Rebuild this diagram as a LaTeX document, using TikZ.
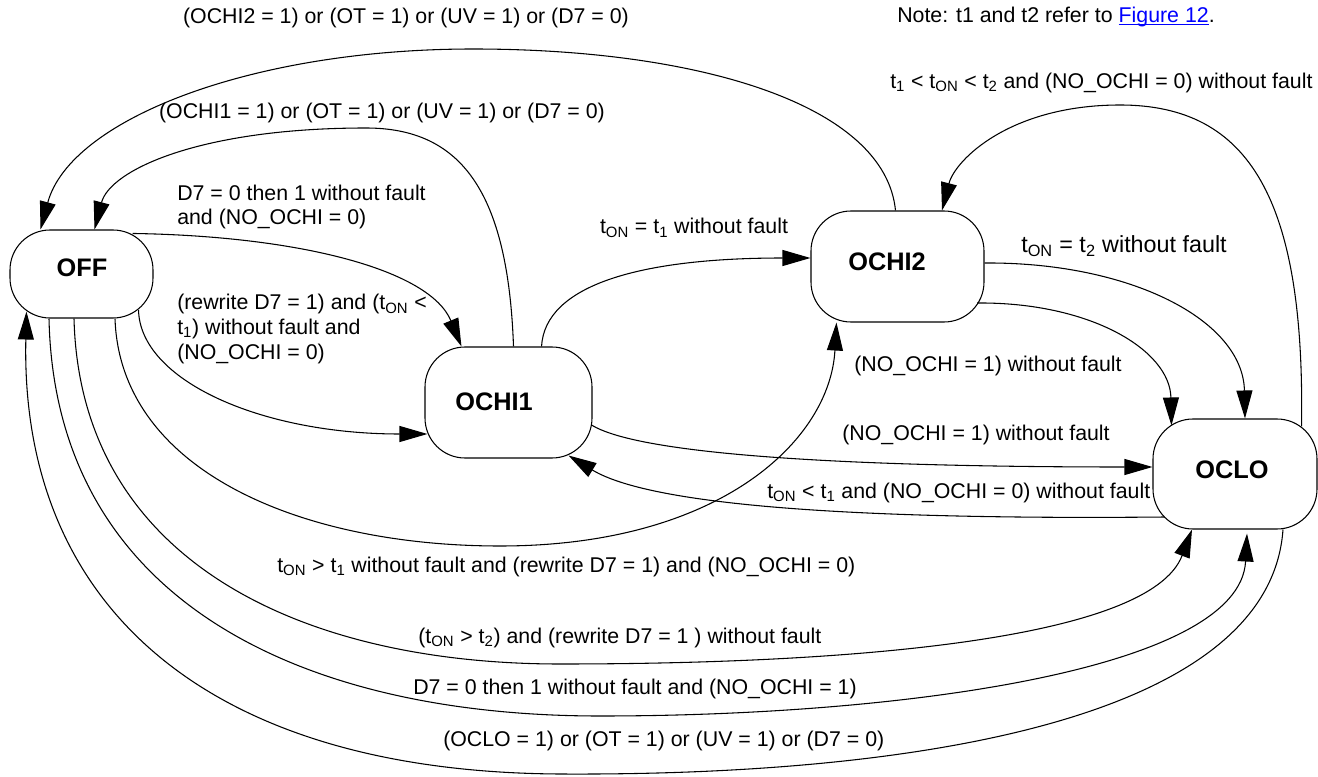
\documentclass[tikz,border=0pt]{standalone}
\usepackage{fontspec}
\setmainfont{Liberation Sans}
\usetikzlibrary{arrows.meta,calc}
\newcommand{\tsb}[1]{\textsubscript{#1}}
\newcommand{\myul}[1]{\setbox0\hbox{#1}\rlap{\rule[-1.6pt]{\wd0}{0.7pt}}\box0}
\begin{document}
\begin{tikzpicture}[x=0.75pt,y=-0.75pt,
  state/.style={draw, line width=0.8pt, rounded corners=30pt, inner sep=0pt},
  stname/.style={font=\fontsize{19}{22}\selectfont\bfseries, inner sep=0pt},
  lbl/.style={font=\fontsize{16}{18.5}\selectfont, inner sep=0pt, align=left},
  biglbl/.style={font=\fontsize{17.5}{20}\selectfont, inner sep=0pt},
  conn/.style={line width=0.8pt, -{Triangle[length=21pt,width=12pt]}}
]
\useasboundingbox (0,0) rectangle (1318,777);

% states
\node[state, minimum width=107.25pt, minimum height=66pt] (OFF) at (81.5,274) {};
\node[state, minimum width=125.25pt, minimum height=83.25pt] (OCHI1) at (508.5,402.5) {};
\node[state, minimum width=129.75pt, minimum height=83.25pt] (OCHI2) at (897.5,266.5) {};
\node[state, minimum width=123pt, minimum height=82.5pt] (OCLO) at (1235,474) {};

\node[stname] (OFFt) at (82,268) {OFF};
\node[stname] (OCHI1t) at (494,402) {OCHI1};
\node[stname] (OCHI2t) at (887,262) {OCHI2};
\node[stname] (OCLOt) at (1232,470) {OCLO};

% connectors
% E1 OCHI2 -> OFF
\draw[conn] ($(OCHI2.north)+(-2,0)$) .. controls (885,105) and (700,49) .. (473,49)
  .. controls (250,49) and (70,120) .. ($(OFF.north)+(-41,0)$);
% E2 OCHI1 -> OFF
\draw[conn] ($(OCHI1.north)+(5,0)$) .. controls (508,190) and (460,128) .. (366,128)
  .. controls (200,128) and (110,170) .. ($(OFF.north)+(13,0)$);
% E3 OFF -> OCHI1
\draw[conn] ($(OFF.north east)+(-21,4)$) .. controls (300,236) and (430,270) .. ($(OCHI1.north west)+(37,0)$);
% E4 OFF -> OCHI1
\draw[conn] ($(OFF.east)+(-15,36)$) .. controls (140,380) and (260,434) .. ($(OCHI1.west)+(3,31.5)$);
% E5 OCHI1 -> OCHI2
\draw[conn] ($(OCHI1.north east)+(-51,0)$) .. controls (545,285) and (640,258) .. ($(OCHI2.west)+(0,-8.5)$);
% E6 OFF -> OCHI2
\draw[conn] ($(OFF.south)+(33.5,0)$) .. controls (120,470) and (300,546) .. (500,546)
  .. controls (720,546) and (830,440) .. ($(OCHI2.south west)+(26,0)$);
% E7 OCHI2 -> OCLO
\draw[conn] ($(OCHI2.east)+(0,-3.5)$) .. controls (1130,262) and (1243,320) .. ($(OCLO.north)+(10,0)$);
% E8 OCHI2 -> OCLO
\draw[conn] ($(OCHI2.east)+(-7.5,36.5)$) .. controls (1090,302) and (1170,350) .. ($(OCLO.north west)+(19,7)$);
% E9 OCLO -> OCHI2
\draw[conn] ($(OCLO.north east)+(-16,8)$) .. controls (1305,200) and (1250,105) .. (1120,105)
  .. controls (1010,105) and (955,160) .. ($(OCHI2.north)+(44.5,0)$);
% E10 OCHI1 -> OCLO
\draw[conn] ($(OCHI1.east)+(-1,22.5)$) .. controls (640,455) and (850,467) .. ($(OCLO.west)+(0,-7)$);
% E11 OCLO -> OCHI1
\draw[conn] ($(OCLO.west)+(12,43)$) .. controls (850,520) and (650,505) .. ($(OCHI1.south east)+(-24,-3)$);
% E12 OFF -> OCLO
\draw[conn] ($(OFF.south)+(-7.5,0)$) .. controls (80,560) and (300,664) .. (560,664)
  .. controls (850,664) and (1150,640) .. ($(OCLO.south)+(-43,0)$);
% E13 OFF -> OCLO
\draw[conn] ($(OFF.south)+(-32.5,0)$) .. controls (55,600) and (300,716) .. (600,716)
  .. controls (900,716) and (1240,670) .. ($(OCLO.south)+(12,4)$);
% E14 OCLO -> OFF
\draw[conn] ($(OCLO.south)+(48,0)$) .. controls (1270,715) and (930,776) .. (560,774)
  .. controls (200,772) and (20,600) .. ($(OFF.south west)+(17,-7)$);

% labels
\node[lbl] (L1) at (406,18) {(OCHI2 = 1) or (OT = 1) or (UV = 1) or (D7 = 0)};
\node[lbl, anchor=west] (note) at (897,17) {Note: t1 and t2 refer to \textcolor{blue}{\myul{Figure 12}}.};
\node[lbl, anchor=west] (L9) at (890,83) {t\tsb{1} < t\tsb{ON} < t\tsb{2} and (NO\_OCHI = 0) without fault};
\node[lbl] (L2) at (382,113) {(OCHI1 = 1) or (OT = 1) or (UV = 1) or (D7 = 0)};
\node[lbl, anchor=west] (L3) at (177,207) {D7 = 0 then 1 without fault\\and (NO\_OCHI = 0)};
\node[lbl] (L5) at (694,228) {t\tsb{ON} = t\tsb{1} without fault};
\node[biglbl, anchor=west] (L7) at (1021,246) {t\tsb{ON} = t\tsb{2} without fault};
\node[lbl, anchor=west] (L4) at (177,329) {(rewrite D7 = 1) and (t\tsb{ON} <\\t\tsb{1}) without fault and\\(NO\_OCHI = 0)};
\node[lbl] (L8) at (988,366) {(NO\_OCHI = 1) without fault};
\node[lbl] (L10) at (976,435) {(NO\_OCHI = 1) without fault};
\node[lbl, anchor=west] (L11) at (767,493) {t\tsb{ON} < t\tsb{1} and (NO\_OCHI = 0) without fault};
\node[lbl, anchor=west] (L6) at (277,567) {t\tsb{ON} > t\tsb{1} without fault and (rewrite D7 = 1) and (NO\_OCHI = 0)};
\node[lbl, anchor=west] (L12) at (418,638) {(t\tsb{ON} > t\tsb{2}) and (rewrite D7 = 1 ) without fault};
\node[lbl, anchor=west] (L13) at (413,689) {D7 = 0 then 1 without fault and (NO\_OCHI = 1)};
\node[lbl, anchor=west] (L14) at (443,741) {(OCLO = 1) or (OT = 1) or (UV = 1) or (D7 = 0)};
\end{tikzpicture}
\end{document}
